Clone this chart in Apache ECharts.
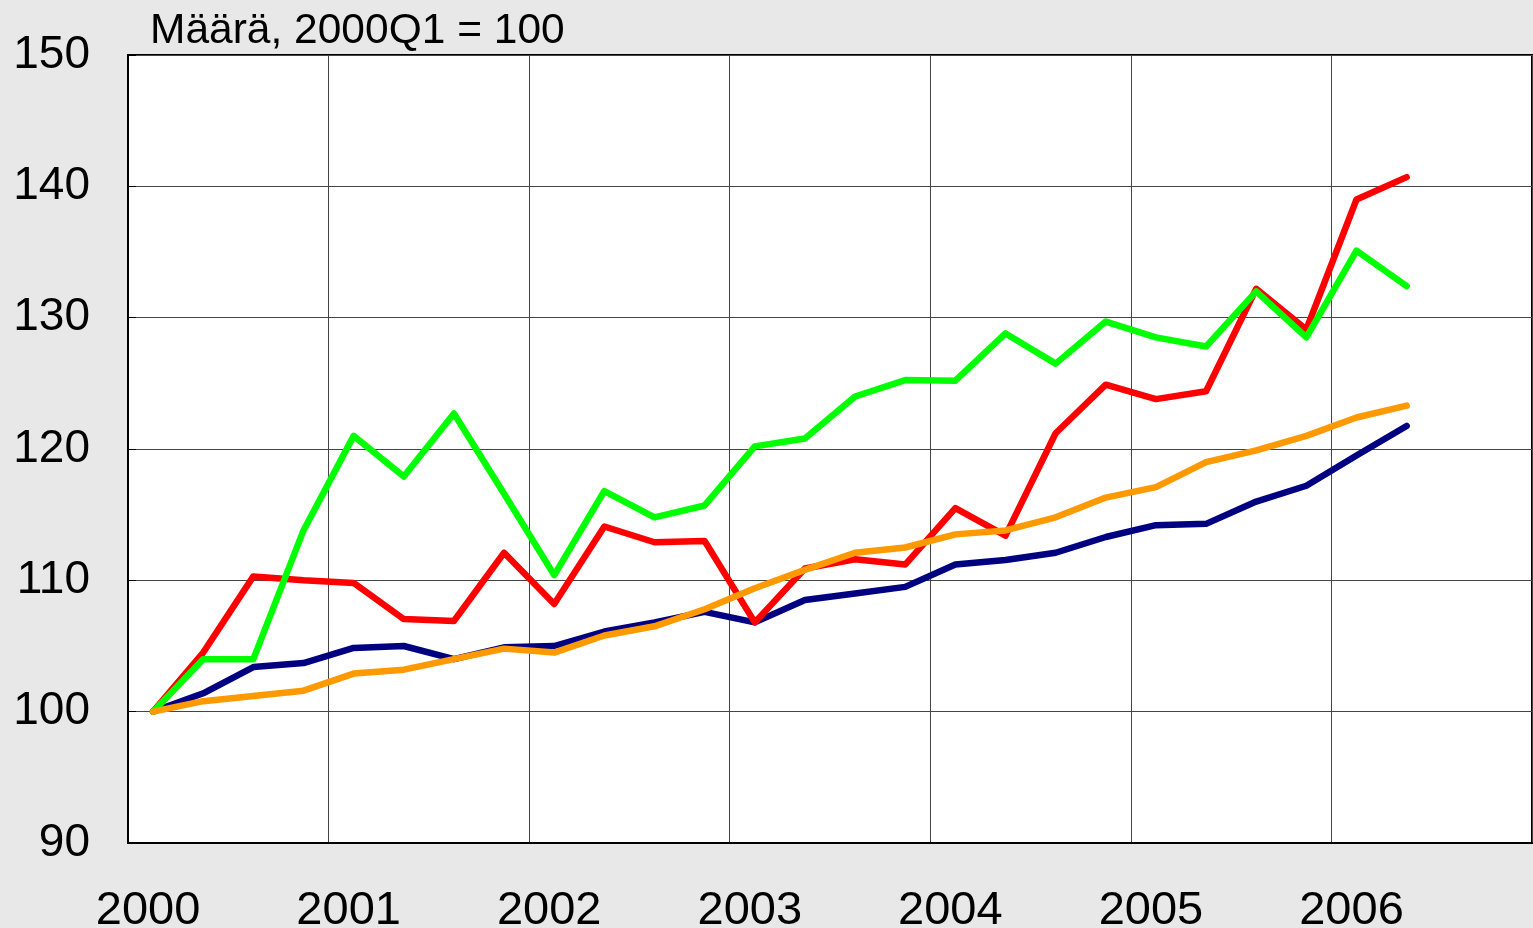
<!DOCTYPE html>
<html>
<head>
<meta charset="utf-8">
<script src="https://cdn.jsdelivr.net/npm/echarts@6/dist/echarts.min.js"></script>
<style>
  html, body { margin: 0; padding: 0; background: #e8e8e8; }
  #chart { width: 1533px; height: 928px; }
</style>
</head>
<body>
<div id="chart"></div>
<script>
// quarters 2000Q1 .. 2006Q4 (axis runs to end of 2006)
const years = ["2000", "2001", "2002", "2003", "2004", "2005", "2006"];
const quarters = [];
years.forEach((y) => {
  for (let q = 1; q <= 4; q++) quarters.push(y + "Q" + q);
});

// index values, 2000Q1 = 100 (2000Q1 .. 2006Q2)
const navySeries = [100, 101.4, 103.4, 103.7, 104.85, 105.0, 104.0, 104.9, 105.0, 106.1,
  106.8, 107.6, 106.8, 108.5, 109.0, 109.5, 111.2, 111.55, 112.1, 113.3,
  114.2, 114.3, 116.0, 117.2, 119.5, 121.75];
const redSeries = [100, 104.5, 110.3, 110.0, 109.8, 107.05, 106.9, 112.1, 108.2, 114.1,
  112.9, 113.0, 106.8, 110.9, 111.6, 111.2, 115.5, 113.4, 121.2, 124.9,
  123.8, 124.4, 132.2, 129.1, 139.0, 140.7];
const greenSeries = [100, 104.0, 104.0, 113.8, 121.0, 117.9, 122.7, 116.6, 110.4, 116.8,
  114.8, 115.7, 120.2, 120.8, 124.0, 125.25, 125.2, 128.8, 126.5, 129.7,
  128.5, 127.8, 132.0, 128.5, 135.1, 132.4];
const orangeSeries = [100, 100.8, 101.2, 101.6, 102.9, 103.2, 104.0, 104.8, 104.5, 105.8,
  106.5, 107.8, 109.4, 110.8, 112.1, 112.5, 113.5, 113.8, 114.8, 116.3,
  117.1, 119.0, 119.9, 121.0, 122.4, 123.3];

const chart = echarts.init(document.getElementById("chart"));

function lineSeries(data, color) {
  return {
    type: "line",
    data: data,
    symbol: "none",
    lineStyle: { color: color, width: 6.5, cap: "round", join: "round" },
    animation: false,
  };
}

chart.setOption({
  backgroundColor: "#e8e8e8",
  textStyle: { fontFamily: "Liberation Sans, Arial, sans-serif" },
  title: {
    text: "Määrä, 2000Q1 = 100",
    left: 145,
    top: 5,
    textStyle: { fontSize: 42.5, fontWeight: "normal", color: "#000" },
  },
  grid: {
    left: 128,
    right: 1,
    top: 55,
    bottom: 85,
    outerBoundsMode: "none",
    show: true,
    backgroundColor: "#fff",
    borderColor: "#000",
    borderWidth: 2,
  },
  xAxis: {
    type: "category",
    data: quarters,
    boundaryGap: true,
    axisLine: { lineStyle: { color: "#000", width: 2 } },
    axisTick: { show: false },
    axisLabel: {
      interval: 3,
      fontSize: 47,
      color: "#000",
      margin: 45,
      padding: [0, 10, 0, 0],
      formatter: (v) => v.slice(0, 4),
    },
    splitLine: { show: true, interval: 3, lineStyle: { color: "#444", width: 1 } },
  },
  yAxis: {
    type: "value",
    min: 90,
    max: 150,
    interval: 10,
    axisLine: { show: true, lineStyle: { color: "#000", width: 2 } },
    axisTick: { show: true, inside: true, length: 8, lineStyle: { color: "#000" } },
    axisLabel: { fontSize: 46, color: "#000", margin: 38 },
    splitLine: { lineStyle: { color: "#444", width: 1 } },
  },
  series: [
    lineSeries(navySeries, "#000080"),
    lineSeries(redSeries, "#ff0000"),
    lineSeries(greenSeries, "#00ff00"),
    lineSeries(orangeSeries, "#ff9900"),
  ],
});
</script>
</body>
</html>
